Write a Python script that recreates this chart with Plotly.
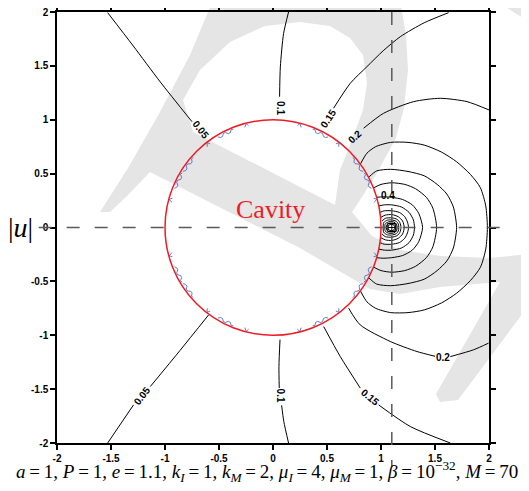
import math
import plotly.graph_objects as go

# ------------------------------------------------------------------ data
a = 1.0            # cavity radius
e = 1.1            # source position on the x axis
x_range = [-2, 2]
y_range = [-2, 2]
tick_vals = [-2, -1.5, -1, -0.5, 0, 0.5, 1, 1.5, 2]
tick_text = ["-2", "-1.5", "-1", "-0.5", "0", "0.5", "1", "1.5", "2"]

# open iso-lines (cavity -> frame); None leaves the gap where a label sits
iso005_up_x = [-1.531, -1.294, -1.044, -0.750]
iso005_up_y = [1.994, 1.685, 1.351, 0.982]
iso005_lo_x = [-0.596, -0.86, -1.136, None, -1.291, -1.531]
iso005_lo_y = [-0.811, -1.14, -1.476, None, -1.646, -2.0]

iso010_up_x = [0.144, 0.098, 0.068, 0.061]
iso010_up_y = [2.0, 1.80, 1.49, 1.214]
iso010_lo_x = [0.065, 0.055, 0.058, None, 0.08, 0.10, 0.144]
iso010_lo_y = [-1.04, -1.29, -1.49, None, -1.65, -1.80, -2.0]

iso015_up_x = [0.561, 0.716, 0.870, 1.02, 1.179, 1.40, 1.626]
iso015_up_y = [1.107, 1.339, 1.493, 1.64, 1.771, 1.90, 1.994]
iso015_lo_x = [0.469, 0.623, 0.808, None, 0.978, 1.271, 1.642]
iso015_lo_y = [-0.919, -1.198, -1.49, None, -1.646, -1.847, -2.0]

iso020_up_x = [0.839, 1.024, 1.302, 1.549, 1.796, 2.0]
iso020_up_y = [0.921, 1.06, 1.168, 1.199, 1.168, 1.091]
iso020_lo_x = [0.70, 0.808, 1.086, 1.333, 1.50, None, 1.642, 1.857, 1.996]
iso020_lo_y = [-0.749, -0.904, -1.058, -1.151, -1.195, None, -1.198, -1.135, -1.073]

# iso-lines around the source: upper halves (cavity -> y=0 on the right)
iso025_x = [0.81, 0.87, 0.95, 1.09, 1.25, 1.40, 1.56, 1.70, 1.83, 1.92, 1.97, 1.985]
iso025_y = [0.59, 0.69, 0.75, 0.79, 0.79, 0.765, 0.70, 0.61, 0.49, 0.37, 0.20, 0.0]
iso030_x = [0.885, 0.96, 1.09, 1.25, 1.40, 1.52, 1.61, 1.67, 1.70]
iso030_y = [0.466, 0.525, 0.54, 0.52, 0.48, 0.40, 0.31, 0.19, 0.0]
iso035_x = [0.93, 1.0, 1.1, 1.22, 1.32, 1.42, 1.48, 1.515]
iso035_y = [0.367, 0.40, 0.415, 0.40, 0.36, 0.28, 0.18, 0.0]
iso040_x = [0.96, 1.02, 1.1, 1.2, 1.29, 1.35, 1.385]
iso040_y = [0.28, 0.285, 0.28, 0.26, 0.21, 0.13, 0.0]
iso045_x = [0.98, 1.03, 1.1, 1.19, 1.26, 1.30, 1.31]
iso045_y = [0.20, 0.21, 0.21, 0.19, 0.14, 0.07, 0.0]
iso050_x = [0.99, 1.03, 1.1, 1.17, 1.22, 1.245, 1.255]
iso050_y = [0.14, 0.155, 0.155, 0.14, 0.10, 0.05, 0.0]
iso055_x = [1.0, 1.04, 1.1, 1.16, 1.20, 1.215]
iso055_y = [0.095, 0.115, 0.12, 0.10, 0.06, 0.0]
iso060_x = [1.01, 1.04, 1.1, 1.15, 1.175, 1.185]
iso060_y = [0.06, 0.085, 0.09, 0.075, 0.045, 0.0]
iso065_x = [1.02, 1.025, 1.06, 1.1, 1.14, 1.16, 1.165]
iso065_y = [0.0, 0.045, 0.068, 0.07, 0.058, 0.033, 0.0]
iso070_x = [1.035, 1.04, 1.07, 1.1, 1.13, 1.145, 1.15]
iso070_y = [0.0, 0.035, 0.052, 0.055, 0.045, 0.025, 0.0]
iso075_x = [1.05, 1.055, 1.08, 1.1, 1.122, 1.133, 1.137]
iso075_y = [0.0, 0.027, 0.04, 0.042, 0.035, 0.018, 0.0]
iso080_x = [1.065, 1.07, 1.1, 1.12, 1.127]
iso080_y = [0.0, 0.02, 0.03, 0.022, 0.0]

# contour labels
label_text = ["0.05", "0.05", "0.1", "0.1", "0.15", "0.15", "0.2", "0.2", "0.4"]
label_x = [-0.67, -1.21, 0.063, 0.065, 0.51, 0.90, 0.762, 1.572, 1.063]
label_y = [0.91, -1.56, 1.11, -1.56, 1.015, -1.58, 0.84, -1.205, 0.30]
label_angle = [52, -52, 90, 90, -57, 40, -42, 0, 0]

# small blue artefacts inside the cavity rim (angles of the first quadrant, deg)
mark_angles = [75.6, 63.4, 52.2, 36.7, 26.4, 15.3]
mark_kinds = ["caret", "zig", "caret", "zig", "zig", "caret"]

caption = ("<i>a</i>\u2009=\u20091, <i>P</i>\u2009=\u20091, <i>e</i>\u2009=\u20091.1, "
           "<i>k</i><sub><i>I</i></sub>\u2009=\u20091, <i>k</i><sub><i>M</i></sub>\u2009=\u20092, "
           "<i>μ</i><sub><i>I</i></sub>\u2009=\u20094, <i>μ</i><sub><i>M</i></sub>\u2009=\u20091, "
           "<i>β</i>\u2009=\u200910<sup>\u221232</sup>, <i>M</i>\u2009=\u200970")

# ------------------------------------------------------------------ figure
fig = go.Figure()
LINE = dict(color="black", width=1, shape="spline", smoothing=0.7)


def add_line(xs, ys, line=LINE):
    fig.add_trace(go.Scatter(x=xs, y=ys, mode="lines", line=line,
                             connectgaps=False, hoverinfo="skip", showlegend=False))


for xs, ys in [(iso005_up_x, iso005_up_y), (iso005_lo_x, iso005_lo_y),
               (iso010_up_x, iso010_up_y), (iso010_lo_x, iso010_lo_y),
               (iso015_up_x, iso015_up_y), (iso015_lo_x, iso015_lo_y),
               (iso020_up_x, iso020_up_y), (iso020_lo_x, iso020_lo_y)]:
    add_line(xs, ys)

for xu, yu in [(iso025_x, iso025_y), (iso030_x, iso030_y), (iso035_x, iso035_y),
               (iso040_x, iso040_y), (iso045_x, iso045_y), (iso050_x, iso050_y),
               (iso055_x, iso055_y), (iso060_x, iso060_y), (iso065_x, iso065_y),
               (iso070_x, iso070_y), (iso075_x, iso075_y), (iso080_x, iso080_y)]:
    xs = list(xu) + list(reversed(xu[:-1]))
    ys = list(yu) + [-v for v in reversed(yu[:-1])]
    add_line(xs, ys)

# singular point
fig.add_trace(go.Scatter(x=[e], y=[0], mode="markers", hoverinfo="skip", showlegend=False,
                         marker=dict(symbol="square-cross-open", size=8,
                                     color="black", line=dict(width=1))))

# blue rim artefacts
patterns = {
    "caret": [(-0.022, 0.035), (0.0, 0.004), (0.016, 0.03)],
    "zig": [(-0.08, 0.02), (-0.06, 0.036), (-0.04, 0.036), (-0.02, 0.014), (0.0, 0.014),
            (0.02, 0.036), (0.04, 0.036), (0.06, 0.014), (0.08, 0.02)],
}
bx, by = [], []
for ang, kind in zip(mark_angles, mark_kinds):
    for sx, sy in [(1, 1), (-1, 1), (1, -1), (-1, -1)]:
        th = math.radians(ang)
        cx, cy = math.cos(th), math.sin(th)
        for t, n in patterns[kind]:
            r = a - n
            bx.append(sx * (r * cx - t * cy))
            by.append(sy * (r * cy + t * cx))
        bx.append(None)
        by.append(None)
fig.add_trace(go.Scatter(x=bx, y=by, mode="lines", hoverinfo="skip", showlegend=False,
                         line=dict(color="#3a5fc8", width=0.8)))

# ------------------------------------------------------------------ layout / decoration
PAGE_OFF = 8                     # default page margin of the html body
FIG_W, FIG_H = 529 - PAGE_OFF, 491 - PAGE_OFF
L, R, T, B = 57, 489, 12, 443    # plot area in window pixels


def pp(px, py):
    return f"{(px - L) / (R - L):.4f},{(B - py) / (B - T):.4f}"


def path(pts):
    return "M " + " L ".join(pp(x, y) for x, y in pts) + " Z"


wm_outer = [(100, 212), (128, 168), (160, 112), (190, 55), (213, 0), (400, 0), (406, 35),
            (408, 70), (404, 108), (396, 138), (377, 173), (360, 200), (352, 212),
            (372, 236), (400, 250), (440, 256), (490, 258), (529, 254), (529, 305),
            (458, 400), (440, 402), (436, 394), (500, 282), (440, 287), (400, 294),
            (370, 289), (300, 248), (150, 172), (128, 195), (110, 212)]
wm_hole = [(183, 100), (200, 70), (230, 42), (265, 26), (300, 22), (330, 26), (350, 38),
           (363, 55), (367, 83), (363, 110), (352, 140), (340, 170), (335, 205), (193, 132)]
wm_corner = [(495, 0), (529, 0), (529, 22)]
WM = "#e5e5e5"
shapes = [
    dict(type="path", xref="paper", yref="paper", layer="below",
         path=path(wm_outer) + " " + path(wm_hole), fillcolor=WM, line=dict(width=0)),
    dict(type="path", xref="paper", yref="paper", layer="below",
         path=path(wm_corner), fillcolor=WM, line=dict(width=0)),
]


def xp(v):
    return (v - x_range[0]) / (x_range[1] - x_range[0])


def yp(v):
    return (v - y_range[0]) / (y_range[1] - y_range[0])


DASH = dict(color="#5a5a5a", width=1.5, dash="13px,15px")
shapes.append(dict(type="line", xref="paper", yref="paper", layer="above",
                   x0=xp(-2.17), x1=xp(2.12), y0=yp(0), y1=yp(0), line=DASH))
shapes.append(dict(type="line", xref="paper", yref="paper", layer="above",
                   x0=xp(e), x1=xp(e), y0=yp(2.0), y1=yp(-2.22), line=DASH))
shapes.append(dict(type="circle", xref="x", yref="y", x0=-a, x1=a, y0=-a, y1=a,
                   line=dict(color="#ee1c24", width=1.5)))

annotations = []
for t, x, y, ang in zip(label_text, label_x, label_y, label_angle):
    annotations.append(dict(x=x, y=y, xref="x", yref="y", text=t, showarrow=False,
                            textangle=ang,
                            font=dict(family="Liberation Sans, Arial", size=10,
                                      color="black", weight="bold")))
annotations.append(dict(x=-0.02, y=0.168, xref="x", yref="y", text="Cavity", showarrow=False,
                        font=dict(family="Liberation Serif, Times New Roman", size=26,
                                  color="#ee1c24")))
annotations.append(dict(x=(6 - L) / (R - L), y=0, xref="paper", yref="y",
                        xanchor="left", yanchor="middle",
                        text="|<i>u</i>|", showarrow=False,
                        font=dict(family="Liberation Serif, Times New Roman", size=28,
                                  color="black")))
annotations.append(dict(x=(266.5 - L) / (R - L), y=(B - 472) / (B - T), xref="paper",
                        yref="paper", text=caption, showarrow=False,
                        xanchor="center", yanchor="middle",
                        font=dict(family="Liberation Serif, Times New Roman", size=19,
                                  color="black")))

AX = dict(showgrid=False, zeroline=False, showline=True, linecolor="black", automargin=False,
          linewidth=1.5, mirror="ticks", ticks="outside", ticklen=5, tickwidth=1.5,
          tickcolor="black", tickmode="array", tickvals=tick_vals, ticktext=tick_text,
          ticklabeloverflow="allow",
          tickfont=dict(family="Liberation Sans, Arial", size=10, color="black",
                        weight="bold"))

fig.update_layout(
    width=FIG_W, height=FIG_H,
    margin=dict(l=L - PAGE_OFF, r=FIG_W - (R - PAGE_OFF), t=T - PAGE_OFF,
                b=FIG_H - (B - PAGE_OFF), autoexpand=False),
    paper_bgcolor="white", plot_bgcolor="rgba(0,0,0,0)",
    xaxis={**AX, "range": x_range},
    yaxis={**AX, "range": y_range},
    shapes=shapes, annotations=annotations, showlegend=False,
)

fig.write_html("out.html")
